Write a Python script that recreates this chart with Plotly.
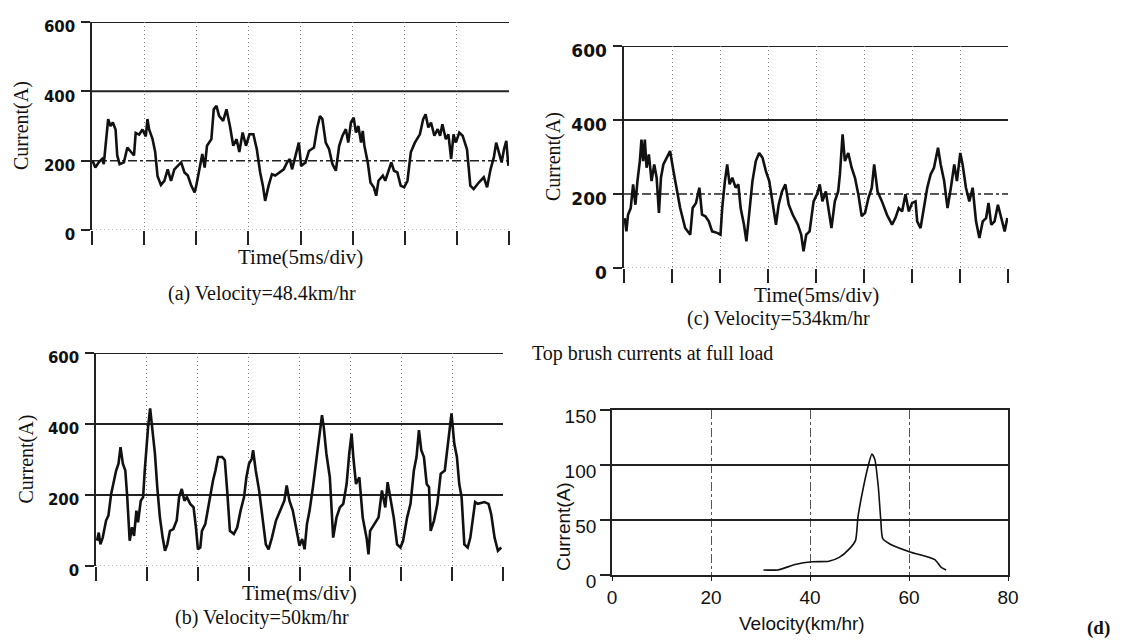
import plotly.graph_objects as go

W, H = 1123, 641
OFF = 8                      # default page margin around the plot div
FW, FH = W - OFF, H - OFF    # figure size so that it ends at the window edge

# ---------------- data ----------------
# (a) Velocity = 48.4 km/hr, time in ms (5 ms/div), current in A
a_time = [0.06, 0.32, 0.65, 0.97, 1.13, 1.29, 1.55, 1.77, 2.0, 2.26, 2.42, 2.65, 3.06, 3.39, 3.71, 4.03,
          4.19, 4.52, 4.84, 5.16, 5.32, 5.48, 5.81, 6.06, 6.29, 6.61, 6.94, 7.26, 7.58, 7.9, 8.23, 8.55,
          8.87, 9.19, 9.52, 9.84, 10.0, 10.32, 10.58, 10.81, 11.03, 11.45, 11.68, 11.94, 12.19, 12.58,
          12.9, 13.23, 13.55, 13.87, 14.13, 14.45, 14.77, 15.1, 15.48, 15.81, 16.13, 16.39, 16.61, 16.94,
          17.26, 17.58, 18.0, 18.39, 18.71, 18.97, 19.19, 19.52, 19.84, 20.06, 20.48, 20.81, 21.29, 21.61,
          21.87, 22.1, 22.42, 22.74, 23.06, 23.39, 23.71, 24.03, 24.35, 24.58, 24.84, 25.1, 25.32, 25.55,
          25.81, 25.97, 26.13, 26.45, 26.71, 27.03, 27.26, 27.48, 27.9, 28.13, 28.45, 28.71, 28.97, 29.29,
          29.61, 29.94, 30.26, 30.58, 30.97, 31.45, 31.77, 32.0, 32.26, 32.52, 32.84, 33.16, 33.39, 33.61,
          33.94, 34.19, 34.45, 34.68, 34.9, 35.23, 35.55, 35.97, 36.29, 36.61, 37.1, 37.58, 37.9, 38.23,
          38.55, 38.77, 39.03, 39.29, 39.52, 39.74, 39.94]
a_current = [200, 180, 195, 205, 190, 233, 320, 300, 310, 290, 215, 190, 195, 238, 225, 215,
             280, 275, 290, 270, 320, 290, 262, 225, 155, 130, 142, 175, 142, 175, 185, 195,
             166, 157, 128, 108, 128, 185, 219, 180, 243, 262, 348, 358, 329, 315,
             348, 300, 243, 262, 225, 281, 243, 276, 276, 233, 166, 128, 84, 128,
             161, 157, 166, 175, 195, 205, 175, 214, 252, 185, 195, 228, 238, 296,
             329, 320, 252, 233, 190, 171, 243, 272, 291, 252, 310, 324, 281, 300,
             252, 286, 243, 195, 137, 123, 99, 142, 157, 142, 175, 195, 171, 166,
             128, 123, 142, 224, 252, 276, 320, 334, 296, 310, 272, 291, 272, 305,
             262, 276, 205, 276, 252, 281, 272, 233, 128, 118, 137, 152, 123, 175,
             210, 252, 224, 195, 233, 257, 185]

# (b) Velocity = 50 km/hr
b_time = [0.1, 0.27, 0.43, 0.66, 0.99, 1.22, 1.49, 1.75, 1.98, 2.21, 2.41, 2.64, 2.88, 3.07, 3.31, 3.54,
          3.74, 3.97, 4.13, 4.4, 4.63, 4.79, 4.96, 5.12, 5.32, 5.52, 5.79, 6.02, 6.28, 6.55, 6.78, 7.01,
          7.27, 7.6, 7.93, 8.17, 8.43, 8.69, 8.93, 9.26, 9.59, 9.82, 10.02, 10.25, 10.41, 10.74, 11.01,
          11.24, 11.5, 11.74, 12.0, 12.4, 12.66, 12.89, 13.16, 13.55, 13.88, 14.21, 14.55, 14.78, 15.04,
          15.31, 15.44, 15.7, 16.03, 16.36, 16.69, 16.96, 17.29, 17.69, 18.08, 18.51, 18.74, 19.01, 19.34,
          19.67, 20.0, 20.26, 20.5, 20.73, 20.99, 21.32, 21.65, 21.98, 22.21, 22.38, 22.64, 22.98, 23.31,
          23.64, 23.97, 24.3, 24.63, 24.89, 25.12, 25.29, 25.55, 25.88, 26.21, 26.61, 26.78, 26.94, 27.34,
          27.77, 28.1, 28.43, 28.66, 28.93, 29.26, 29.59, 29.92, 30.18, 30.58, 30.91, 31.24, 31.5, 31.74,
          31.97, 32.23, 32.5, 32.73, 32.89, 33.22, 33.55, 33.88, 34.28, 34.61, 34.94, 35.21, 35.47, 35.7,
          35.93, 36.2, 36.53, 36.79, 37.02, 37.26, 37.52, 38.18, 38.58, 38.84, 39.17, 39.5, 39.83]
b_current = [71, 94, 61, 80, 128, 142, 203, 241, 269, 288, 335, 288, 269, 194, 71, 109,
             85, 156, 123, 184, 194, 269, 345, 392, 444, 383, 317, 222, 137, 80, 43, 61,
             99, 104, 128, 194, 217, 184, 194, 175, 165, 109, 47, 52, 99, 118, 165,
             203, 241, 269, 307, 307, 298, 213, 99, 90, 109, 156, 194, 250, 288,
             302, 326, 269, 213, 137, 61, 47, 80, 128, 156, 184, 227, 184, 156,
             109, 57, 76, 47, 118, 156, 222, 298, 364, 425, 392, 317, 250, 80,
             137, 165, 175, 231, 317, 373, 307, 231, 250, 137, 76, 33, 99, 118,
             137, 213, 165, 236, 194, 137, 61, 52, 71, 137, 175, 269, 307, 383,
             326, 307, 231, 222, 99, 128, 175, 260, 269, 354, 430, 345, 307, 231,
             194, 61, 52, 80, 128, 180, 175, 180, 175, 146, 80, 43, 52]

# (c) Velocity = 534 km/hr
c_time = [0.07, 0.25, 0.42, 0.7, 0.95, 1.19, 1.4, 1.65, 1.82, 2.0, 2.17, 2.35, 2.59, 2.87, 3.15, 3.4,
          3.64, 3.85, 4.1, 4.45, 4.8, 5.15, 5.5, 5.85, 6.37, 6.9, 7.15, 7.5, 7.85, 8.13, 8.48, 8.83,
          9.18, 9.7, 10.05, 10.23, 10.51, 10.75, 11.0, 11.28, 11.63, 11.91, 12.15, 12.5, 12.75, 13.03,
          13.38, 13.73, 14.08, 14.43, 14.78, 15.13, 15.48, 15.83, 16.11, 16.46, 16.81, 17.16, 17.58,
          18.11, 18.46, 18.7, 18.98, 19.33, 19.75, 20.1, 20.39, 20.67, 21.02, 21.3, 21.61, 21.96, 22.31,
          22.49, 22.77, 23.01, 23.36, 23.71, 24.06, 24.41, 24.76, 25.11, 25.46, 25.81, 26.06, 26.41,
          26.87, 27.39, 27.92, 28.27, 28.62, 28.97, 29.32, 29.67, 30.02, 30.37, 30.54, 30.89, 31.24,
          31.59, 31.94, 32.29, 32.71, 32.99, 33.35, 33.7, 34.05, 34.4, 34.68, 35.03, 35.27, 35.62,
          35.97, 36.32, 36.67, 37.02, 37.37, 37.72, 37.97, 38.25, 38.6, 38.95, 39.3, 39.65, 39.93]
c_current = [135, 99, 144, 162, 226, 171, 235, 289, 347, 289, 347, 271, 307, 235, 280, 244,
             149, 244, 280, 298, 316, 262, 217, 162, 108, 90, 162, 176, 217, 144, 140, 126,
             99, 95, 90, 162, 235, 280, 226, 244, 217, 226, 162, 117, 72, 153,
             235, 289, 311, 298, 262, 235, 171, 117, 171, 207, 226, 171, 144,
             117, 90, 45, 90, 99, 180, 199, 226, 180, 207, 162, 108, 180, 207,
             253, 361, 289, 311, 271, 244, 199, 140, 149, 189, 217, 280, 207,
             180, 144, 117, 135, 162, 153, 199, 153, 176, 180, 126, 108, 162,
             217, 253, 271, 325, 280, 235, 162, 217, 280, 235, 311, 280, 217,
             180, 217, 126, 81, 126, 135, 176, 117, 126, 171, 135, 99, 135]

# (d) Top brush currents at full load
d_velocity = [30.6, 33.5, 37.0, 40.4, 43.8, 45.9, 48.0, 49.2, 49.7, 50.8, 51.8, 52.5, 53.1, 53.8,
              54.3, 54.7, 56.2, 60.2, 65.2, 66.5, 67.5]
d_current = [4.6, 4.6, 9.5, 12, 12.5, 16, 24, 31.5, 53, 80, 100, 110, 105, 80,
             50, 33, 28, 21, 14, 7, 4.6]

wave_ticks = [0, 5, 10, 15, 20, 25, 30, 35, 40]
wave_levels = [0, 200, 400, 600]
d_xticks = [0, 20, 40, 60, 80]
d_yticks = [0, 50, 100, 150]

captions = {
    "a": ("Time(5ms/div)", "(a) Velocity=48.4km/hr"),
    "b": ("Time(ms/div)", "(b) Velocity=50km/hr"),
    "c": ("Time(5ms/div)", "(c) Velocity=534km/hr"),
}

# ---------------- layout helpers (window pixels -> paper fractions) ----------------
def px_x(p):
    return (p - OFF) / FW

def px_y(p):
    return 1 - (p - OFF) / FH

SERIF = "Liberation Serif"
SANS = "Liberation Sans"

fig = go.Figure()

# panel boxes in window pixels: left, right, top, bottom
boxes = {
    "a": (92, 509, 22, 230),
    "b": (96, 503, 353, 566),
    "c": (624, 1008, 46, 268),
    "d": (612, 1008, 410, 575),
}
axis_ids = {"a": ("x", "y"), "b": ("x2", "y2"), "c": ("x3", "y3"), "d": ("x4", "y4")}

series = {"a": (a_time, a_current), "b": (b_time, b_current), "c": (c_time, c_current)}
tick_sizes = {"a": 15, "b": 15, "c": 17}
caption_x = {"a": 262, "b": 262, "c": 778}

layout = dict(
    width=FW, height=FH, margin=dict(l=0, r=0, t=0, b=0, autoexpand=False),
    paper_bgcolor="white", plot_bgcolor="white", showlegend=False,
)

shapes = []
annotations = []


def note(text, x, y, size, family=SERIF, angle=0, xanchor="center"):
    annotations.append(dict(text=text, textangle=angle, xref="paper", yref="paper",
                            x=px_x(x), y=px_y(y), xanchor=xanchor, yanchor="middle",
                            showarrow=False, font=dict(family=family, size=size, color="#111")))


for key in ["a", "b", "c"]:
    xa, ya = axis_ids[key]
    l, r, t, b = boxes[key]
    xs, ys = series[key]
    fig.add_trace(go.Scatter(x=xs, y=ys, mode="lines", xaxis=xa, yaxis=ya,
                             line=dict(color="#111111", width=2.6)))
    xname = "xaxis" + xa[1:]
    yname = "yaxis" + ya[1:]
    layout[xname] = dict(
        domain=[px_x(l), px_x(r)], range=[0, 40], anchor=ya, automargin=False,
        tickvals=wave_ticks, showticklabels=False, ticks="outside", ticklen=14,
        tickwidth=1.5, tickcolor="#222", showline=False, zeroline=False,
        showgrid=True, griddash="1px,3px", gridcolor="#777", gridwidth=1.2,
    )
    layout[yname] = dict(
        domain=[px_y(b), px_y(t)], range=[0, 600], anchor=xa, automargin=False,
        tickvals=wave_levels, ticks="outside", ticklen=9, tickwidth=1.5, tickcolor="#222",
        showline=True, linecolor="#222", linewidth=1.5, showgrid=False, zeroline=False,
        tickfont=dict(family="DejaVu Sans", size=tick_sizes[key], color="#111", weight="bold"),
        ticklabelshift=5, ticklabelstandoff=3,
    )
    # horizontal reference lines
    for lvl in wave_levels:
        if lvl == 0:
            dash, col, wd = "1px,3px", "#777", 1.2
        elif lvl == 200 and key in ("a", "c"):
            dash, col, wd = "dashdot", "#222", 1.5
        else:
            dash, col, wd = "solid", "#222", 2
        shapes.append(dict(type="line", xref=xa + " domain", yref=ya, x0=0, x1=1,
                           y0=lvl, y1=lvl, line=dict(color=col, width=wd, dash=dash),
                           layer="below"))
    tt, cap = captions[key]
    note("Current(A)", l - 70, (t + b) / 2, 20, angle=-90)
    note(tt, (l + r) / 2, b + 27, 21)
    note(cap, caption_x[key], b + (64 if key == "a" else 51), 20)

# panel (d)
l, r, t, b = boxes["d"]
fig.add_trace(go.Scatter(x=d_velocity, y=d_current, mode="lines", xaxis="x4", yaxis="y4",
                         line=dict(color="#111111", width=1.6, shape="spline", smoothing=0.6)))
layout["xaxis4"] = dict(
    domain=[px_x(l), px_x(r)], range=[0, 80], anchor="y4", tickvals=d_xticks, automargin=False,
    ticks="outside", ticklen=4, tickwidth=1.2, tickcolor="#222",
    showline=True, mirror=True, linecolor="#222", linewidth=1.8, zeroline=False,
    showgrid=True, griddash="dashdot", gridcolor="#555", gridwidth=1,
    tickfont=dict(family=SANS, size=19, color="#111"),
)
layout["yaxis4"] = dict(
    domain=[px_y(b), px_y(t)], range=[0, 150], anchor="x4", tickvals=d_yticks, automargin=False,
    ticks="outside", ticklen=10, tickwidth=1.5, tickcolor="#222",
    showline=True, mirror=True, linecolor="#222", linewidth=1.8, zeroline=False,
    showgrid=True, gridcolor="#222", gridwidth=1.6,
    tickfont=dict(family=SANS, size=19, color="#111"), ticklabelshift=6,
)
note("Current(A)", 563, 527, 19, family=SANS, angle=-90)
note("Velocity(km/hr)", 802, 623, 19, family=SANS)
note("Top brush currents at full load", 530, 353, 20, xanchor="left")
note("<b>(d)</b>", 1112, 628, 19, xanchor="right")

layout["shapes"] = shapes
layout["annotations"] = annotations
fig.update_layout(**layout)

fig.write_html("out.html")
